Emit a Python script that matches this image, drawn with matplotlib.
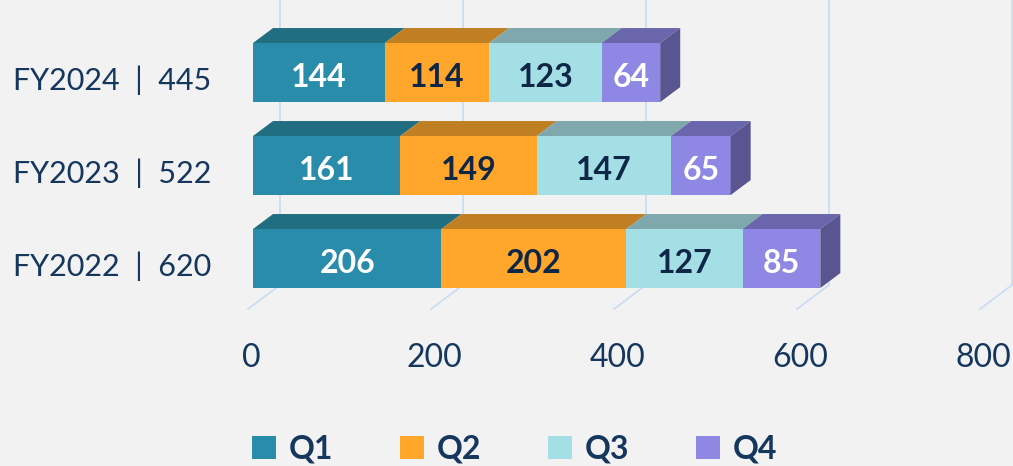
import matplotlib.pyplot as plt
from matplotlib.patches import Polygon, Patch
import numpy as np

years = ["FY2022", "FY2023", "FY2024"]
q1 = [206, 161, 144]
q2 = [202, 149, 114]
q3 = [127, 147, 123]
q4 = [85, 65, 64]
quarters = ["Q1", "Q2", "Q3", "Q4"]
x_ticks = [0, 200, 400, 600, 800]

front_colors = ["#2a8cab", "#ffa62b", "#a5dfe6", "#8e87e3"]
top_colors = ["#216e80", "#c07f22", "#7ea8ab", "#6a66ab"]
side_color = "#5a5590"
label_colors = ["white", "#0f2747", "#0f2747", "white"]
navy = "#15375e"
grid_color = "#c9dcf2"

plt.rcParams['font.family'] = ['Lato', 'DejaVu Sans']

fig = plt.figure(figsize=(10.13, 4.66), dpi=100)
fig.patch.set_facecolor("#f2f2f2")
ax = fig.add_axes([0, 0, 1, 1])
ax.set_facecolor("#f2f2f2")
ax.set_xlim(-276.5, 830.6)
ax.set_ylim(-2.231, 2.780)
ax.axis("off")

# depth of the 3D effect in data units
dx = 21.9
dy = 0.161
bar_h = 0.635

# back wall gridlines + floor diagonals
for t in x_ticks:
    ax.plot([t + 29.5, t + 29.5], [-0.285, 3.0], color=grid_color, lw=1.2, zorder=0)
    ax.plot([t + 29.5, t - 5.5], [-0.285, -0.543], color=grid_color, lw=1.2, zorder=0)
    ax.text(t - 2, -1.065, str(t), ha="center", va="center", fontsize=23, color=navy)

data = np.array([q1, q2, q3, q4])
cats = np.arange(len(years))
for i in cats[::-1]:
    left = 0
    for k in range(4):
        w = data[k, i]
        ax.barh(i, w, left=left, height=bar_h, color=front_colors[k], zorder=2)
        top = i + bar_h / 2
        ax.add_patch(Polygon([(left, top), (left + w, top), (left + w + dx, top + dy),
                              (left + dx, top + dy)], closed=True,
                             facecolor=top_colors[k], edgecolor="none", zorder=2))
        ax.text(left + w / 2, i - 0.05, str(w), ha="center", va="center",
                fontsize=23, fontweight="bold", color=label_colors[k], zorder=3)
        left += w
    bot = i - bar_h / 2
    top = i + bar_h / 2
    ax.add_patch(Polygon([(left, bot), (left, top), (left + dx, top + dy),
                          (left + dx, bot + dy)], closed=True,
                         facecolor=side_color, edgecolor="none", zorder=2))
    ax.text(-262, i - 0.08, f"{years[i]}  |  {data[:, i].sum()}", ha="left", va="center",
            fontsize=22, color=navy)

handles = [Patch(facecolor=c) for c in front_colors]
leg = ax.legend(handles, quarters, loc="center", bbox_to_anchor=(0.508, 0.036),
                ncol=4, frameon=False, handlelength=0.75, handleheight=0.75,
                handletextpad=0.4, columnspacing=2.1,
                prop={"size": 23, "weight": "bold"})
for txt in leg.get_texts():
    txt.set_color(navy)

fig.savefig("out.png", dpi=100, facecolor=fig.get_facecolor())
